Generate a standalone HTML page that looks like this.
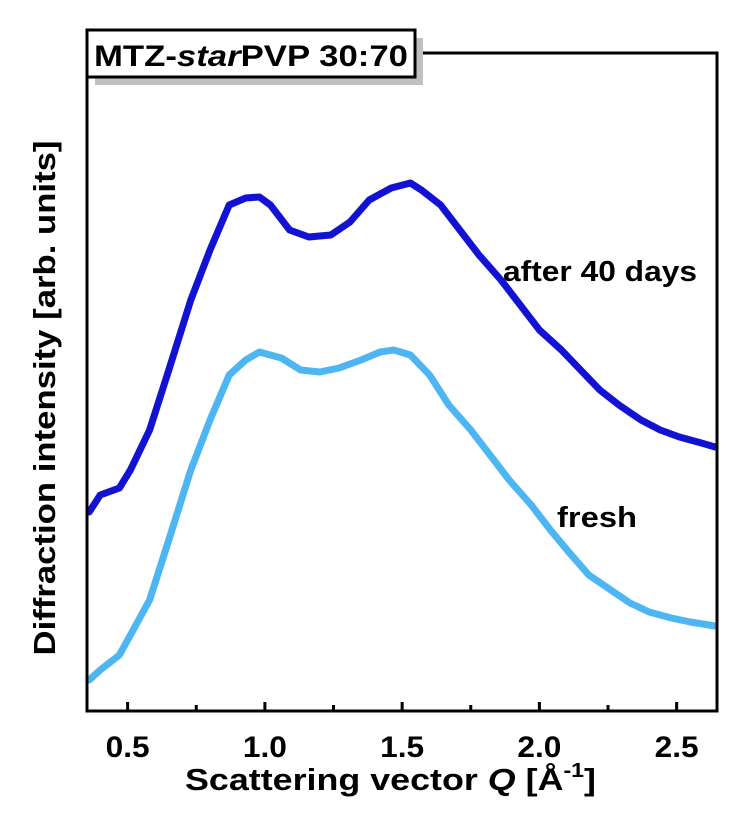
<!DOCTYPE html>
<html><head><meta charset="utf-8"><style>
body{margin:0;background:#fff;position:relative;}
svg text{font-family:"Liberation Sans",Arial,sans-serif;font-weight:bold;fill:#000;}
</style></head><body>
<svg width="742" height="810" viewBox="0 0 742 810">
<g id="plot"></g>
</svg>
<script>
const darkQ=[0.36,0.40,0.47,0.51,0.58,0.65,0.73,0.80,0.87,0.93,0.98,1.02,1.09,1.16,1.24,1.31,1.38,1.46,1.53,1.57,1.64,1.71,1.78,1.86,1.93,2.00,2.08,2.15,2.22,2.29,2.37,2.44,2.51,2.59,2.64];
const darkI=[199,216,223,241,281,341,411,461,506,513,514,506,481,474,476,489,511,523,528,521,506,481,456,431,406,381,361,341,321,306,291,281,274,268,264];
const freshQ=[0.36,0.40,0.47,0.51,0.58,0.65,0.73,0.80,0.87,0.93,0.98,1.06,1.13,1.20,1.27,1.35,1.42,1.47,1.53,1.60,1.67,1.75,1.82,1.89,1.97,2.04,2.11,2.18,2.26,2.33,2.40,2.48,2.55,2.64];
const freshI=[31,41,56,76,111,171,241,291,336,351,359,353,341,339,343,351,359,361,356,336,306,281,256,231,206,181,158,136,121,108,99,93,89,85];
const majorTicks=[0.5,1.0,1.5,2.0,2.5];
const majorLabels=["0.5","1.0","1.5","2.0","2.5"];
const minorTicks=[0.75,1.25,1.75,2.25];

const L=87,R=717,T=53,B=711;
const qMin=0.352,qMax=2.647,iMin=0,iMax=658;
function xs(q){return L+(q-qMin)/(qMax-qMin)*(R-L);}
function ys(v){return B-(v-iMin)/(iMax-iMin)*(B-T);}
const NS="http://www.w3.org/2000/svg";
const g=document.getElementById('plot');
function mk(t,a,p){const e=document.createElementNS(NS,t);for(const k in a)e.setAttribute(k,a[k]);(p||g).appendChild(e);return e;}

function series(Q,I,color,name){
  let d='';
  for(let i=0;i<Q.length;i++){d+=(i?'L':'M')+xs(Q[i]).toFixed(1)+','+ys(I[i]).toFixed(1);}
  const p=mk('path',{d:d,fill:'none',stroke:color,'stroke-width':7,'stroke-linejoin':'round','stroke-linecap':'round','clip-path':'url(#clip)'});
  
  
}
const defs=mk('defs',{});
const cp=mk('clipPath',{id:'clip'},defs);
mk('rect',{x:L,y:T,width:R-L,height:B-T},cp);
series(freshQ,freshI,'#4db6f2','fresh-line');
series(darkQ,darkI,'#1212d4','after-40-days-line');

const fr=mk('rect',{x:L,y:T,width:R-L,height:B-T,fill:'none',stroke:'#000','stroke-width':3});


majorTicks.forEach((q,i)=>{
  const t=mk('line',{x1:xs(q),x2:xs(q),y1:B,y2:B-9,stroke:'#000','stroke-width':3});
  
  
  const lb=mk('text',{x:xs(q),y:757,'text-anchor':'middle','font-size':30,textLength:44,lengthAdjust:'spacingAndGlyphs'});
  lb.textContent=majorLabels[i];
  
  
});
minorTicks.forEach(q=>{
  const t=mk('line',{x1:xs(q),x2:xs(q),y1:B,y2:B-6,stroke:'#000','stroke-width':3});
  
  
});
</script>
<svg width="742" height="810" style="position:absolute;left:0;top:0">
<rect x="95" y="38" width="328" height="47" fill="#c0c0c0"/>
<rect x="87" y="30" width="328" height="47" fill="#fff" stroke="#000" stroke-width="3"/>
<text x="94" y="66" font-size="30" textLength="314" lengthAdjust="spacingAndGlyphs">MTZ-<tspan font-style="italic">star</tspan>PVP 30:70</text>
<text x="503" y="281" font-size="29" textLength="194" lengthAdjust="spacingAndGlyphs">after 40 days</text>
<text x="557" y="527" font-size="29" textLength="80" lengthAdjust="spacingAndGlyphs">fresh</text>
<text x="185" y="790" font-size="31" textLength="411" lengthAdjust="spacingAndGlyphs">Scattering vector <tspan font-style="italic">Q</tspan> [Å<tspan font-size="20" dy="-13">-1</tspan><tspan dy="13">]</tspan></text>
<text transform="translate(55,398) rotate(-90)" font-size="31" text-anchor="middle" textLength="515" lengthAdjust="spacingAndGlyphs">Diffraction intensity [arb. units]</text>
</svg>
</body></html>
